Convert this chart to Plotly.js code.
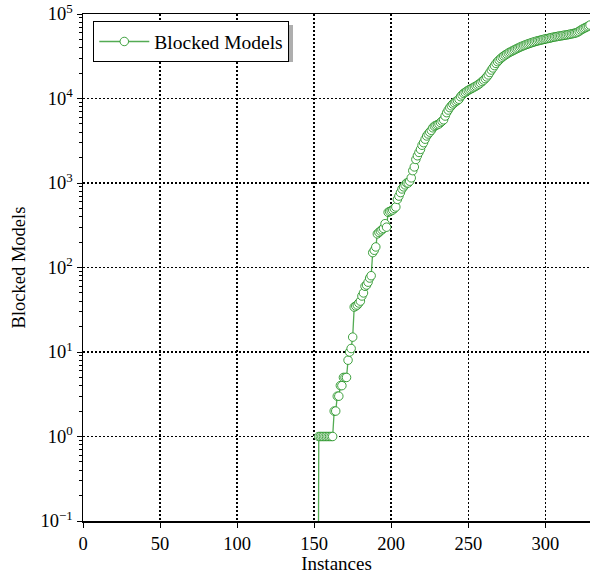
<!DOCTYPE html>
<html>
<head>
<meta charset="utf-8">
<script src="https://cdn.plot.ly/plotly-3.0.1.min.js"></script>
<style>html,body{margin:0;padding:0;background:#fff;}#chart{width:590px;height:574px;}</style>
</head>
<body>
<div id="chart"></div>
<script>
// Blocked models per instance (sorted), instances 0..329; first 153 instances have 0
const zeroCount = 153;
const blockedNonZero = [
  1,1,1,1,1,1,1,1,1,1,
  2,2,3,3,4,4,5,5,5,8,
  10,11,15,34,35,36,38,40,46,50,
  60,62,67,75,80,150,160,175,250,260,
  270,280,290,330,300,450,460,470,480,500,
  520,640,700,770,850,900,950,1000,1000,1050,
  1150,1400,1550,1900,2100,2300,2500,2800,3000,3300,
  3600,3800,4000,4200,4500,4700,4800,4900,5000,5200,
  5400,5600,6200,6800,7300,7800,8200,8600,8900,9200,
  9500,9800,10500,11000,11500,11800,12200,12500,12800,13100,
  13400,13700,14000,14400,14800,15300,15900,16500,17200,18000,
  19000,20300,21700,23000,24500,26000,27300,28500,29700,30800,
  31800,32700,33600,34500,35300,36100,36900,37700,38500,39300,
  40100,40900,41600,42300,43000,43700,44400,45000,45700,46300,
  46900,47500,48100,48600,49100,49600,50100,50600,51000,51500,
  52000,52500,53000,53500,53900,54300,54700,55100,55500,55900,
  56300,56700,57100,57600,58100,58700,59300,60000,61000,62500,
  64500,66000,67500,69000,70500,72000,74000
];
const blocked = new Array(zeroCount).fill(0).concat(blockedNonZero);
const instances = blocked.map((_, i) => i);

const xTickVals = [0, 50, 100, 150, 200, 250, 300];
const yTickVals = [0.1, 1, 10, 100, 1000, 10000, 100000];
const yTickText = ['10<sup>−1</sup>','10<sup>0</sup>','10<sup>1</sup>','10<sup>2</sup>','10<sup>3</sup>','10<sup>4</sup>','10<sup>5</sup>'];

// zero cannot sit on a log axis: draw it far below the visible range (clipped)
const yPlot = blocked.map(v => v > 0 ? v : 1e-6);

const L = 83, T = 14, W = 507, H = 507;
const px = x => (x - L) / W;
const py = y => 1 - (y - T) / H;

const trace = {
  x: instances,
  y: yPlot,
  type: 'scatter',
  mode: 'lines+markers',
  name: 'Blocked Models',
  line: {color: 'rgba(40,150,40,0.8)', width: 1.3},
  marker: {symbol: 'circle', size: 8.5, color: 'white', line: {color: 'rgba(30,145,30,0.85)', width: 1}},
  cliponaxis: true
};

const font = {family: '"Liberation Serif", "DejaVu Serif", serif', color: 'black'};

const layout = {
  width: 590, height: 574,
  margin: {l: L, r: 0, t: T, b: 53},
  paper_bgcolor: 'white', plot_bgcolor: 'white',
  font: Object.assign({size: 18}, font),
  showlegend: true,
  legend: {
    x: px(93), y: py(21), xanchor: 'left', yanchor: 'top',
    bgcolor: 'white', bordercolor: 'black', borderwidth: 1.3,
    font: Object.assign({size: 19.5}, font),
    itemwidth: 50
  },
  xaxis: {
    range: [0, 329], tickvals: xTickVals, ticks: 'outside', ticklen: 5, tickcolor: 'black',
    showline: true, linecolor: 'black', linewidth: 1.5, mirror: true,
    showgrid: true, gridcolor: 'black', griddash: '1.5px,2.5px', gridwidth: 1.5,
    zeroline: false, tickfont: Object.assign({size: 18.5}, font),
    title: {text: 'Instances', font: Object.assign({size: 19}, font), standoff: 4}
  },
  yaxis: {
    type: 'log', range: [-1, 5], tickvals: yTickVals, ticktext: yTickText,
    ticks: 'outside', ticklen: 5, tickcolor: 'black',
    showline: true, linecolor: 'black', linewidth: 1.5,
    showgrid: true, gridcolor: 'black', griddash: '1.5px,2.5px', gridwidth: 1.5,
    zeroline: false, tickfont: Object.assign({size: 18.5}, font),
    minor: {ticks: 'outside', ticklen: 3, tickcolor: 'black', dtick: 'D1', showgrid: false},
    title: {text: 'Blocked Models', font: Object.assign({size: 18.5}, font), standoff: 10}
  },
  shapes: [
    {type: 'rect', xref: 'paper', yref: 'paper', x0: px(97), x1: px(293), y0: py(62), y1: py(25),
     fillcolor: 'rgba(120,120,120,0.6)', line: {width: 0}, layer: 'above'}
  ]
};

Plotly.newPlot('chart', [trace], layout, {displayModeBar: false, staticPlot: true});
</script>
</body>
</html>
